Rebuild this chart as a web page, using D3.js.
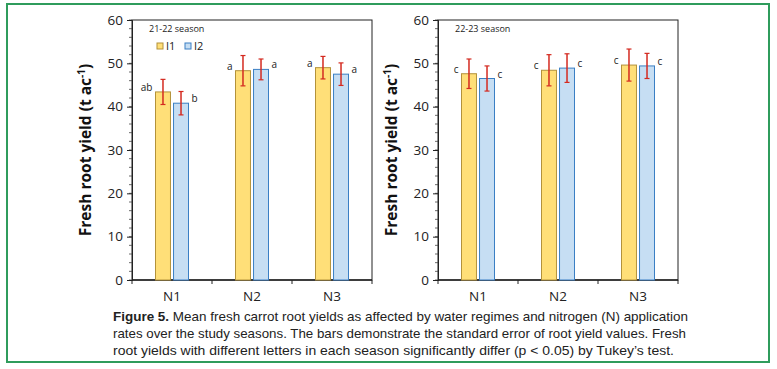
<!DOCTYPE html>
<html>
  <head>
    <style>
      body { margin: 0; background: #fff; }
      .tick text { font-family: 'Open Sans', sans-serif; font-size: 13.5px; fill: #222; }
      .ylab { font-family: 'Open Sans', sans-serif; font-size: 15.5px; font-weight: bold; fill: #111; }
      .small { font-family: 'Open Sans', sans-serif; font-size: 9px; fill: #222; }
      .letter { font-family: 'Open Sans', sans-serif; font-size: 10px; fill: #222; }
      .caption { font-family: 'Liberation Sans Narrow', 'Liberation Sans', Arial, sans-serif; font-size: 13px; fill: #222; }
    </style>
  </head>
  <body>
    <script src="https://d3js.org/d3.v7.min.js"></script>
    <script>
      var width = 777;
      var height = 369;

      var categories = ["N1", "N2", "N3"];
      var series = ["I1", "I2"];
      var yTicks = [0, 10, 20, 30, 40, 50, 60];

      // season 21-22
      var s1I1 = [43.4, 48.3, 49.0];
      var s1I2 = [40.8, 48.6, 47.5];
      var s1I1err = [2.9, 3.5, 2.6];
      var s1I2err = [2.7, 2.4, 2.6];
      var s1I1let = ["ab", "a", "a"];
      var s1I2let = ["b", "a", "a"];

      // season 22-23
      var s2I1 = [47.6, 48.4, 49.6];
      var s2I2 = [46.5, 48.9, 49.4];
      var s2I1err = [3.4, 3.6, 3.7];
      var s2I2err = [2.9, 3.3, 2.9];
      var s2I1let = ["c", "c", "c"];
      var s2I2let = ["c", "c", "c"];

      var fills = { I1: "#ffdf78", I2: "#c6def3" };
      var strokes = { I1: "#b3923a", I2: "#3a7fc4" };

      var svg = d3.select("body")
        .append("svg")
        .attr("width", width)
        .attr("height", height);

      // outer frame
      svg.append("rect")
        .attr("x", 7).attr("y", 4)
        .attr("width", 762).attr("height", 358)
        .attr("fill", "none")
        .attr("stroke", "#2f9c5c")
        .attr("stroke-width", 2);

      function panel(left, top, seasonLabel, v1, v2, e1, e2, l1, l2, showLegend) {
        var w = 240, h = 260;
        var g = svg.append("g").attr("transform", "translate(" + left + "," + top + ")");

        var x = d3.scaleBand().domain(categories).range([0, w]);
        var bw = x.bandwidth();
        var xs = d3.scaleBand().domain(series).range([bw / 2 - 16.5, bw / 2 + 16.5]).paddingInner(0.17);
        var y = d3.scaleLinear().domain([0, 60]).range([h, 0]);

        // frame
        g.append("rect").attr("width", w).attr("height", h)
          .attr("fill", "none").attr("stroke", "#222").attr("stroke-width", 1);

        // minor y ticks
        g.selectAll(".minor").data(d3.range(0, 61, 2)).enter().append("line")
          .attr("x1", -3).attr("x2", 0)
          .attr("y1", function(d) { return y(d); })
          .attr("y2", function(d) { return y(d); })
          .attr("stroke", "#444").attr("stroke-width", 0.8);

        var yAxis = g.append("g").call(d3.axisLeft(y).tickValues(yTicks).tickSize(5).tickPadding(4));
        yAxis.select(".domain").attr("stroke", "#222");
        yAxis.selectAll(".tick line").attr("stroke", "#222");

        // x axis ticks at category boundaries
        g.selectAll(".xb").data(d3.range(0, categories.length + 1)).enter().append("line")
          .attr("x1", function(d) { return d * bw; })
          .attr("x2", function(d) { return d * bw; })
          .attr("y1", h).attr("y2", h + 4)
          .attr("stroke", "#222");
        g.append("line").attr("x1", 0).attr("x2", w).attr("y1", h).attr("y2", h)
          .attr("stroke", "#222").attr("stroke-width", 1.3);

        var xAxis = g.append("g").attr("transform", "translate(0," + h + ")")
          .call(d3.axisBottom(x).tickSize(0).tickPadding(11));
        xAxis.select(".domain").remove();

        var rows = [];
        categories.forEach(function(c, i) {
          rows.push({ cat: c, s: "I1", v: v1[i], e: e1[i], l: l1[i] });
          rows.push({ cat: c, s: "I2", v: v2[i], e: e2[i], l: l2[i] });
        });

        g.selectAll(".bar").data(rows).enter().append("rect")
          .attr("x", function(d) { return x(d.cat) + xs(d.s); })
          .attr("y", function(d) { return y(d.v); })
          .attr("width", xs.bandwidth())
          .attr("height", function(d) { return h - y(d.v); })
          .attr("fill", function(d) { return fills[d.s]; })
          .attr("stroke", function(d) { return strokes[d.s]; })
          .attr("stroke-width", 1);

        var eb = g.selectAll(".err").data(rows).enter().append("g")
          .attr("transform", function(d) { return "translate(" + (x(d.cat) + xs(d.s) + xs.bandwidth() / 2) + ",0)"; });
        eb.append("line")
          .attr("y1", function(d) { return y(d.v + d.e); })
          .attr("y2", function(d) { return y(d.v - d.e); })
          .attr("stroke", "#d42a20").attr("stroke-width", 1.5);
        eb.append("line").attr("x1", -2.5).attr("x2", 2.5)
          .attr("y1", function(d) { return y(d.v + d.e); })
          .attr("y2", function(d) { return y(d.v + d.e); })
          .attr("stroke", "#d42a20").attr("stroke-width", 1.2);
        eb.append("line").attr("x1", -2.5).attr("x2", 2.5)
          .attr("y1", function(d) { return y(d.v - d.e); })
          .attr("y2", function(d) { return y(d.v - d.e); })
          .attr("stroke", "#d42a20").attr("stroke-width", 1.2);

        g.selectAll(".letter").data(rows).enter().append("text")
          .attr("class", "letter")
          .attr("x", function(d) {
            return d.s === "I1" ? x(d.cat) + xs(d.s) - 3 : x(d.cat) + xs(d.s) + xs.bandwidth() + 3;
          })
          .attr("y", function(d) { return y(d.v) - 1; })
          .attr("text-anchor", function(d) { return d.s === "I1" ? "end" : "start"; })
          .text(function(d) { return d.l; });

        g.append("text").attr("class", "small")
          .attr("x", 17).attr("y", 12)
          .text(seasonLabel);

        if (showLegend) {
          var lg = g.selectAll(".lg").data(series).enter().append("g")
            .attr("transform", function(d, i) { return "translate(" + (25 + i * 28) + ",23)"; });
          lg.append("rect").attr("width", 6).attr("height", 6)
            .attr("fill", function(d) { return fills[d]; })
            .attr("stroke", function(d) { return strokes[d]; });
          lg.append("text").attr("class", "letter")
            .attr("x", 9).attr("y", 7)
            .style("font-size", "11px")
            .text(function(d) { return d; });
        }

        var yl = g.append("text").attr("class", "ylab")
          .attr("transform", "translate(-41," + (h / 2) + ") rotate(-90)")
          .attr("text-anchor", "middle");
        yl.append("tspan").text("Fresh root yield (t ac");
        yl.append("tspan").attr("dy", -6).style("font-size", "10px").text("-1");
        yl.append("tspan").attr("dy", 6).text(")");
      }

      panel(132, 20, "21-22 season", s1I1, s1I2, s1I1err, s1I2err, s1I1let, s1I2let, true);
      panel(438, 20, "22-23 season", s2I1, s2I2, s2I1err, s2I2err, s2I1let, s2I2let, false);

      var captionLines = [
        "Mean fresh carrot root yields as affected by water regimes and nitrogen (N) application",
        "rates over the study seasons. The bars demonstrate the standard error of root yield values. Fresh",
        "root yields with different letters in each season significantly differ (p < 0.05) by Tukey’s test."
      ];
      var captionEnds = [688, 686, 674];

      captionLines.forEach(function(line, i) {
        var t = svg.append("text").attr("class", "caption")
          .attr("x", 113).attr("y", 321 + i * 17)
          .attr("textLength", captionEnds[i] - 113)
          .attr("lengthAdjust", "spacingAndGlyphs");
        if (i === 0) {
          t.append("tspan").style("font-weight", "bold").text("Figure 5. ");
        }
        t.append("tspan").text(line);
      });
    </script>
  </body>
</html>
